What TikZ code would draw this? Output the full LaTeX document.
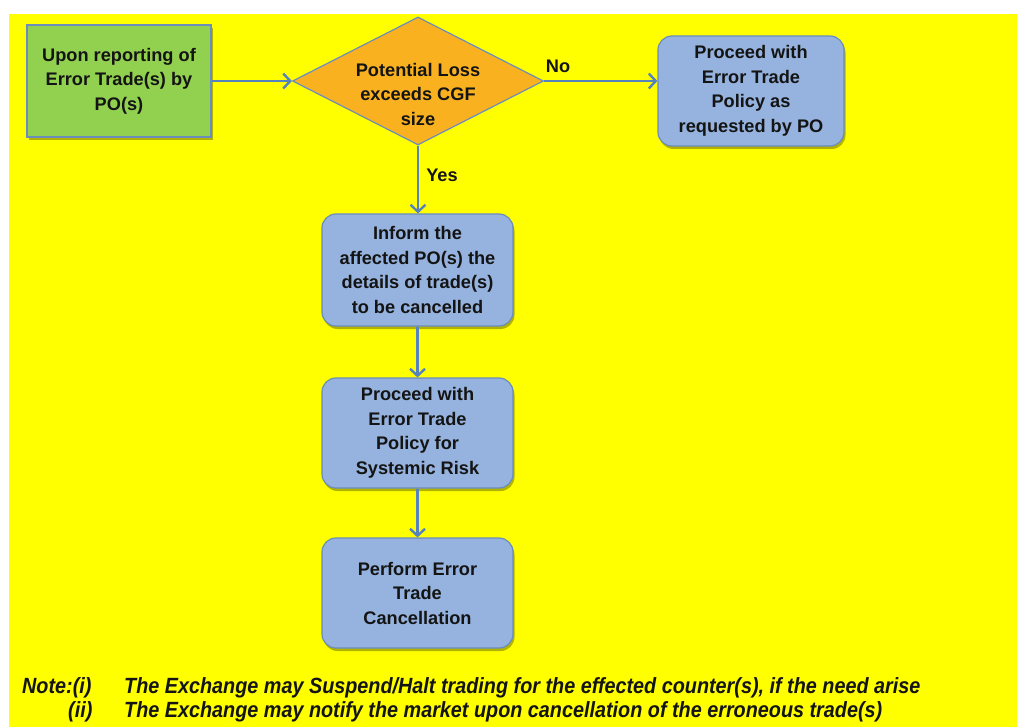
\documentclass[tikz,border=0pt]{standalone}
\usepackage{fontspec}
\setmainfont{Liberation Sans}
\newfontfamily\notefont[FakeStretch=0.9]{Liberation Sans}
\usetikzlibrary{shapes.geometric,arrows.meta,shadows}
\definecolor{bgyellow}{HTML}{FFFF00}
\definecolor{boxgreen}{HTML}{92D050}
\definecolor{boxblue}{HTML}{95B3DE}
\definecolor{dorange}{HTML}{F9B11F}
\definecolor{edgec}{HTML}{6A8DBE}
\definecolor{arrowc}{HTML}{5682BD}
\definecolor{ink}{HTML}{141414}
\tikzset{
  boxtext/.style={align=center, text=ink, font=\fontsize{18.2}{24.5}\selectfont\bfseries},
  softshadow/.style={drop shadow={shadow xshift=1.5pt, shadow yshift=-3pt, opacity=0.3, fill=black}},
  stepbox/.style={boxtext, draw=edgec, line width=1.2pt, fill=boxblue, rounded corners=14pt,
    minimum width=191pt, minimum height=110pt, inner sep=0pt, softshadow},
  startbox/.style={boxtext, draw=edgec, line width=1.2pt, fill=boxgreen,
    minimum width=184pt, minimum height=112pt, inner sep=0pt, softshadow},
  decshape/.style={diamond, draw=edgec, line width=1.2pt, fill=dorange,
    minimum width=251pt, minimum height=128pt, inner sep=0pt},
  flow/.style={draw=arrowc, line width=2.4pt, -{Straight Barb[length=7pt,width=15pt,line width=2.4pt]}},
  lbl/.style={text=ink, font=\fontsize{18.2}{21}\selectfont\bfseries},
  notetext/.style={anchor=west, text=ink, inner sep=0pt, font=\notefont\fontsize{22}{24}\selectfont\bfseries\itshape}
}
\begin{document}
\begin{tikzpicture}[x=1pt,y=-1pt]
\useasboundingbox (0,0) rectangle (1017,727);
\fill[white] (0,0) rectangle (1017,727);
\fill[bgyellow] (9,14) rectangle (1017,727);

\node[startbox] (start) at (119,81) {Upon reporting of\\Error Trade(s) by\\PO(s)};
\node[decshape] (dec) at (418,81) {};
\node[boxtext] (dectext) at (418,94) {Potential Loss\\exceeds CGF\\size};
\node[stepbox, minimum width=186pt] (policy) at (751,91) {Proceed with\\Error Trade\\Policy as\\requested by PO};
\node[stepbox, minimum height=112pt] (inform) at (417.5,270) {Inform the\\affected PO(s) the\\details of trade(s)\\to be cancelled};
\node[stepbox] (systemic) at (417.5,433) {Proceed with\\Error Trade\\Policy for\\Systemic Risk};
\node[stepbox] (cancel) at (417.5,593) {Perform Error\\Trade\\Cancellation};

\draw[flow] (start.east) -- (dec.west);
\draw[flow] (dec.east) -- (dec.east -| policy.west);
\draw[flow] (dec.south) -- (dec.south |- inform.north);
\draw[flow] (inform.south) -- (systemic.north);
\draw[flow] (systemic.south) -- (cancel.north);

\node[lbl] (no) at (558,66) {No};
\node[lbl] (yes) at (442,175) {Yes};

\node[notetext] (n1) at (22,688) {Note:(i)};
\node[notetext] (n1t) at (124,688) {The Exchange may Suspend/Halt trading for the effected counter(s), if the need arise};
\node[notetext] (n2) at (68,712) {(ii)};
\node[notetext] (n2t) at (124,712) {The Exchange may notify the market upon cancellation of the erroneous trade(s)};
\end{tikzpicture}
\end{document}
